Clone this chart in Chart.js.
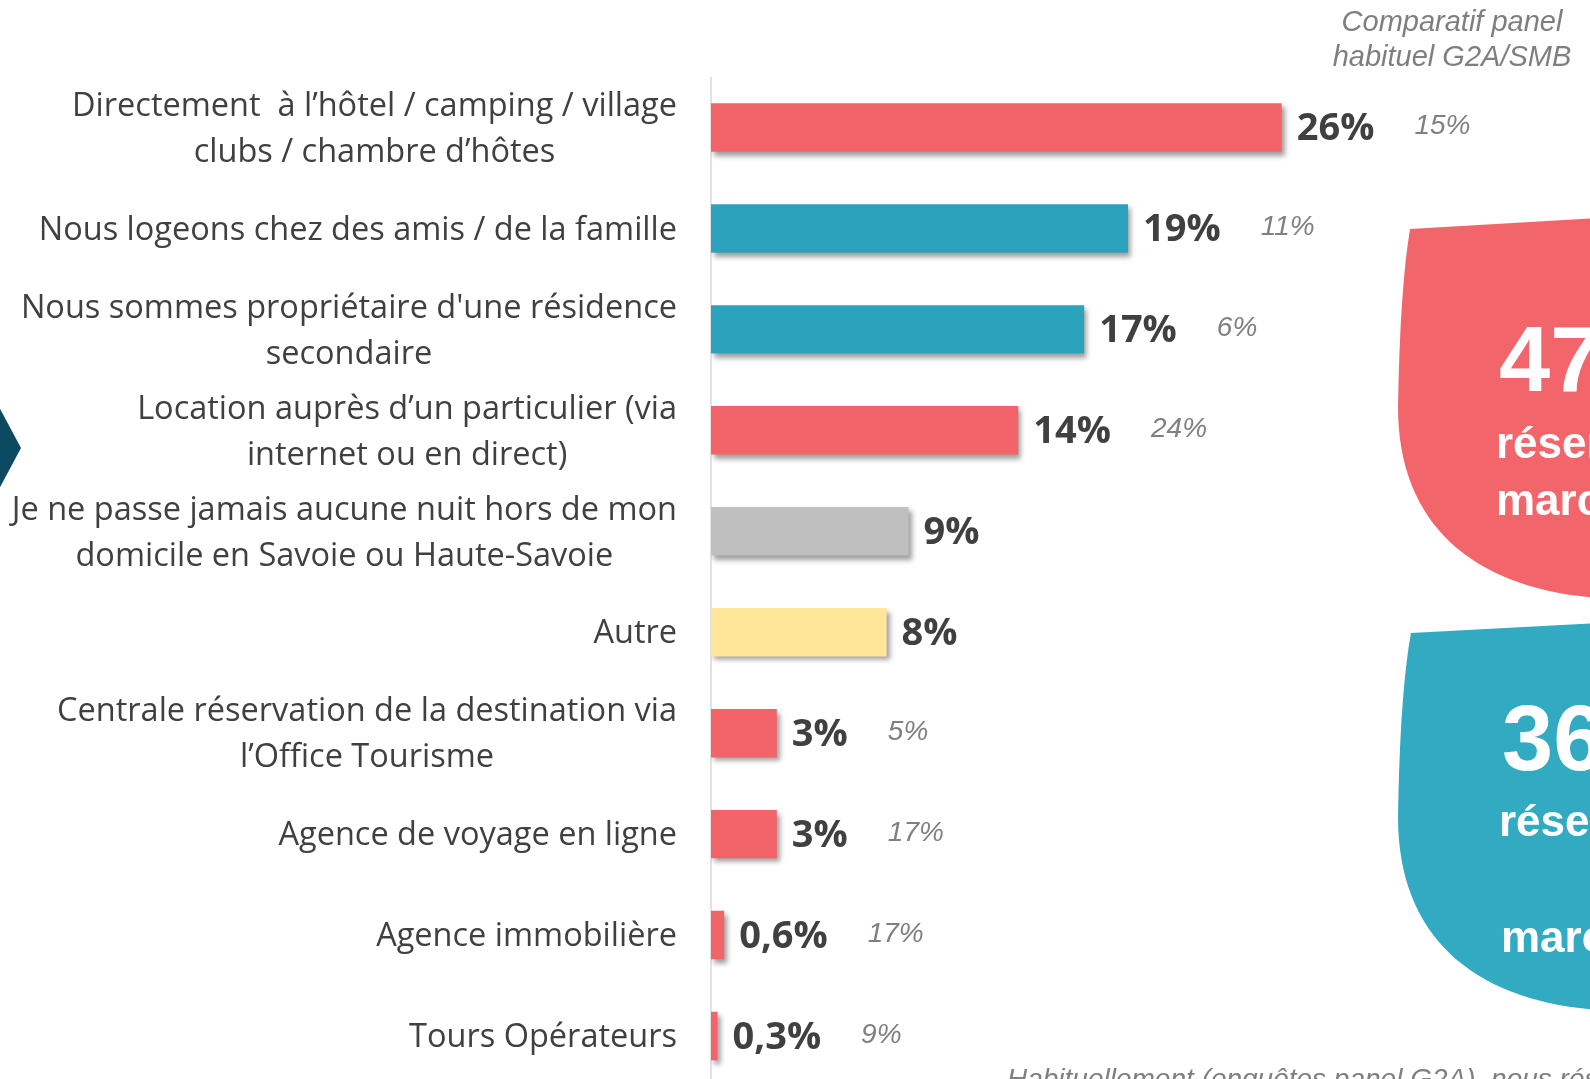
<!DOCTYPE html>
<html>
<head>
<meta charset="utf-8">
<script src="https://cdn.jsdelivr.net/npm/chart.js@4.4.0/dist/chart.umd.min.js"></script>
<style>
  html, body { margin: 0; padding: 0; background: #fff; overflow: hidden; }
  #wrap { position: relative; width: 1590px; height: 1100px; }
</style>
</head>
<body>
<div id="wrap"><canvas id="chart" width="1590" height="1100"></canvas></div>
<script>
// Lodging booking channels, share of respondents
const categories = [
    ['Directement  à l\u2019hôtel / camping / village', 'clubs / chambre d\u2019hôtes'],
    ['Nous logeons chez des amis / de la famille'],
    ['Nous sommes propriétaire d\'une résidence', 'secondaire'],
    ['Location auprès d\u2019un particulier (via', 'internet ou en direct)'],
    ['Je ne passe jamais aucune nuit hors de mon', 'domicile en Savoie ou Haute-Savoie'],
    ['Autre'],
    ['Centrale réservation de la destination via', 'l\u2019Office Tourisme'],
    ['Agence de voyage en ligne'],
    ['Agence immobilière'],
    ['Tours Opérateurs']
];
const values = [26, 19, 17, 14, 9, 8, 3, 3, 0.6, 0.3];
const valueLabels = ['26%', '19%', '17%', '14%', '9%', '8%', '3%', '3%', '0,6%', '0,3%'];
// usual G2A/SMB panel figures (none for the two non-booking rows)
const panelLabels = ['15%', '11%', '6%', '24%', null, null, '5%', '17%', '17%', '9%'];

const RED = '#F2636A';
const TEAL = '#2CA3BC';
const GREY = '#BFBFBF';
const YELLOW = '#FFE699';
const barColors = [RED, TEAL, TEAL, RED, GREY, YELLOW, RED, RED, RED, RED];

const bubbles = [
    { color: '#F2666B', lines: ['47%', 'réservations', 'marchandes'] },
    { color: '#32ABC2', lines: ['36%', 'réservations', '', 'marchandes'] }
];

// soft drop shadow under the bars only
const barShadow = {
    id: 'barShadow',
    beforeDatasetsDraw(chart) {
        const ctx = chart.ctx;
        ctx.save();
        ctx.shadowColor = 'rgba(0,0,0,0.38)';
        ctx.shadowBlur = 5;
        ctx.shadowOffsetX = 3;
        ctx.shadowOffsetY = 4;
    },
    afterDatasetsDraw(chart) {
        chart.ctx.restore();
    }
};

const decorations = {
    id: 'decorations',
    beforeDatasetsDraw(chart) {
        const ctx = chart.ctx;
        const area = chart.chartArea;
        ctx.save();
        // vertical axis line
        ctx.strokeStyle = '#D9D9D9';
        ctx.lineWidth = 1.5;
        ctx.beginPath();
        ctx.moveTo(area.left, area.top);
        ctx.lineTo(area.left, chart.height);
        ctx.stroke();

        // arrow on the left edge
        ctx.fillStyle = '#0C4A62';
        ctx.beginPath();
        ctx.moveTo(-2, 405);
        ctx.lineTo(21, 448);
        ctx.lineTo(-2, 491);
        ctx.closePath();
        ctx.fill();

        // rounded callouts on the right
        const shapes = [
            { x0: 1410, y0: 229, y1: 218, xl: 1398, yl: 407, yb: 598 },
            { x0: 1411, y0: 633, y1: 623, xl: 1398, yl: 817, yb: 1010 }
        ];
        shapes.forEach((s, i) => {
            ctx.fillStyle = bubbles[i].color;
            ctx.beginPath();
            ctx.moveTo(s.x0, s.y0);
            ctx.lineTo(1600, s.y1);
            ctx.lineTo(1600, s.yb);
            ctx.bezierCurveTo(1480, s.yb - 8, s.xl, s.yb - 68, s.xl, s.yl);
            ctx.quadraticCurveTo(s.xl + 2, s.y0 + 60, s.x0, s.y0);
            ctx.closePath();
            ctx.fill();
        });

        ctx.fillStyle = '#fff';
        ctx.textAlign = 'left';
        ctx.textBaseline = 'alphabetic';
        ctx.font = 'bold 92px "Liberation Sans", Arial, sans-serif';
        ctx.fillText(bubbles[0].lines[0], 1499, 391);
        ctx.fillText(bubbles[1].lines[0], 1502, 770);
        ctx.font = 'bold 44px "Liberation Sans", Arial, sans-serif';
        ctx.fillText(bubbles[0].lines[1], 1496, 458);
        ctx.fillText(bubbles[0].lines[2], 1496, 515);
        ctx.fillText(bubbles[1].lines[1], 1499, 836);
        ctx.fillText(bubbles[1].lines[3], 1501, 952);

        // panel heading and footnote
        ctx.fillStyle = '#7F7F7F';
        ctx.font = 'italic 29px "Liberation Sans", Arial, sans-serif';
        ctx.textAlign = 'center';
        ctx.textBaseline = 'middle';
        ctx.fillText('Comparatif panel', 1452, 23);
        ctx.fillText('habituel G2A/SMB', 1452, 58);
        ctx.font = 'italic 28px "Liberation Sans", Arial, sans-serif';
        ctx.textAlign = 'left';
        ctx.textBaseline = 'alphabetic';
        ctx.fillText('Habituellement (enquêtes panel G2A), nous réservons', 1007, 1088);
        ctx.restore();
    },
    afterDraw(chart) {
        const ctx = chart.ctx;
        const x = chart.scales.x;
        const y = chart.scales.y;
        ctx.save();

        // category labels, lines centred on each other, block right-aligned
        ctx.font = '32.5px "Open Sans", sans-serif';
        ctx.fillStyle = '#404040';
        ctx.textBaseline = 'middle';
        ctx.textAlign = 'center';
        const right = 677;
        const lineH = 46;
        categories.forEach((lines, i) => {
            const cy = y.getPixelForValue(i) + 2;
            const w = Math.max(...lines.map(l => ctx.measureText(l).width));
            const cx = right - w / 2;
            const top = cy - (lines.length - 1) * lineH / 2;
            lines.forEach((l, j) => ctx.fillText(l, cx, top + j * lineH));
        });

        // value labels and panel comparison
        ctx.textAlign = 'left';
        values.forEach((v, i) => {
            const cy = y.getPixelForValue(i);
            const vx = x.getPixelForValue(v) + 15;
            ctx.font = 'bold 38px "Open Sans", sans-serif';
            ctx.fillStyle = '#404040';
            ctx.fillText(valueLabels[i], vx, cy + 2);
            const w = ctx.measureText(valueLabels[i]).width;
            if (panelLabels[i]) {
                ctx.font = 'italic 28px "Liberation Sans", Arial, sans-serif';
                ctx.fillStyle = '#808080';
                ctx.fillText(panelLabels[i], vx + w + 40, cy - 1);
            }
        });
        ctx.restore();
    }
};

new Chart(document.getElementById('chart'), {
    type: 'bar',
    data: {
        labels: categories,
        datasets: [{
            data: values,
            backgroundColor: barColors,
            borderWidth: 0,
            barPercentage: 0.48,
            categoryPercentage: 1
        }]
    },
    options: {
        indexAxis: 'y',
        responsive: false,
        animation: false,
        devicePixelRatio: 1,
        layout: { padding: { left: 711, right: 1, top: 77, bottom: 13.5 } },
        plugins: {
            legend: { display: false },
            tooltip: { enabled: false }
        },
        scales: {
            x: { display: false, min: 0, max: 40 },
            y: { display: false }
        }
    },
    plugins: [decorations, barShadow]
});
</script>
</body>
</html>
